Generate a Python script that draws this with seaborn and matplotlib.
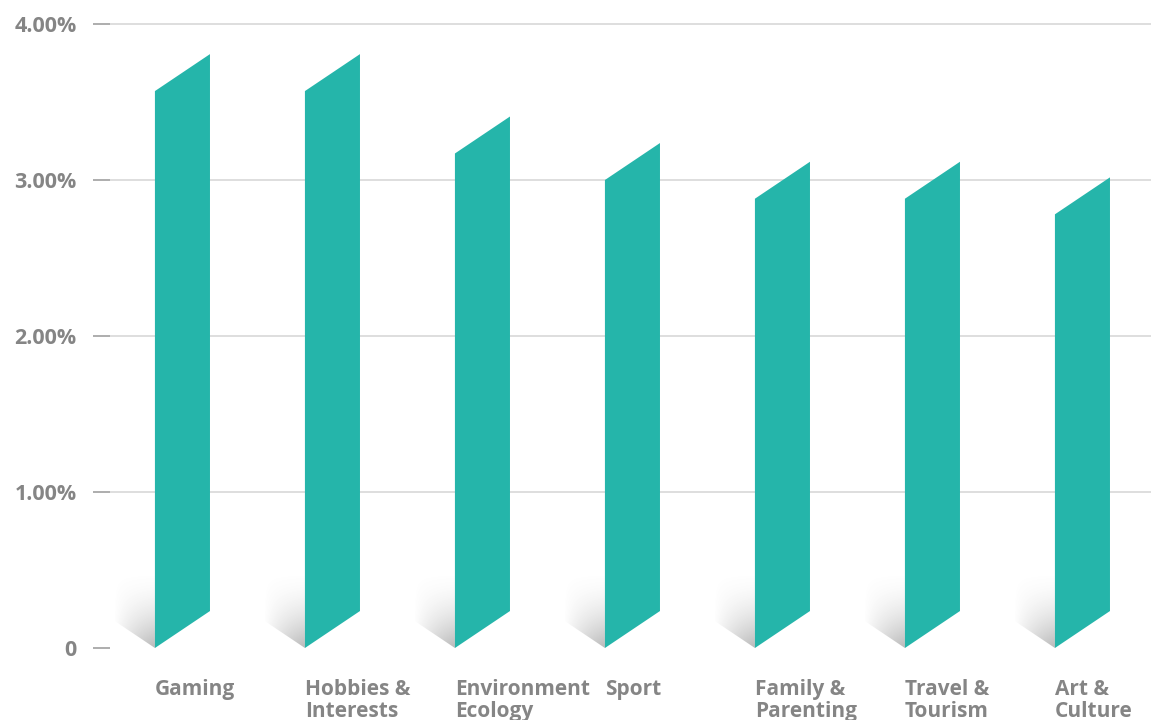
import numpy as np
import matplotlib
matplotlib.use("Agg")
import matplotlib.pyplot as plt
from matplotlib.patches import Polygon
import seaborn as sns

# Engagement rate by topic
categories = ["Gaming", "Hobbies &\nInterests", "Environment\nEcology", "Sport",
              "Family &\nParenting", "Travel &\nTourism", "Art &\nCulture"]
values = [3.57, 3.57, 3.17, 3.00, 2.88, 2.88, 2.78]
ytick_values = [0, 1, 2, 3, 4]
ytick_labels = ["0", "1.00%", "2.00%", "3.00%", "4.00%"]

TEAL = "#25B5AA"
TEXT = "#858585"
BAR_W = 0.367      # bar width in category units
SKEW = 0.237       # rise of the bar's right edge, in y units
SHADOW_W = 0.27    # shadow reach to the left of each bar
SHADOW_H = 0.50    # shadow height in y units

sns.set_theme(style="white")
plt.rcParams["font.family"] = ["Open Sans", "DejaVu Sans"]

fig = plt.figure(figsize=(11.51, 7.2), dpi=100)
ax = fig.add_axes([110 / 1151, 72 / 720, 1 - 110 / 1151, 4.05 * 156 / 720])

sns.barplot(x=categories, y=values, color=TEAL, width=BAR_W, saturation=1,
            ax=ax, zorder=3)

ax.set_xlim(-0.483, 6.457)
ax.set_ylim(0, 4.05)

# px -> data scale factors used for the shadow's slanted lower edge
px_per_x = 150.0
px_per_y = 156.0
slope = (SKEW * px_per_y) / (BAR_W * px_per_x)  # pixel slope of bar edges

bar_lefts = []
for p in list(ax.patches):
    x0, w, h = p.get_x(), p.get_width(), p.get_height()
    p.remove()
    bar_lefts.append(x0)

    # slanted bar: bottom and top edges rise to the right
    poly = Polygon([(x0, 0), (x0 + w, SKEW), (x0 + w, h + SKEW), (x0, h)],
                   closed=True, facecolor=TEAL, edgecolor="none", zorder=3)
    ax.add_patch(poly)

    # soft shadow falling to the left of the bar's foot
    drop = SHADOW_W * px_per_x * slope / px_per_y
    sh_poly = Polygon([(x0, 0), (x0 - SHADOW_W, drop),
                       (x0 - SHADOW_W, SHADOW_H), (x0, SHADOW_H)],
                      closed=True, facecolor="none", edgecolor="none")
    ax.add_patch(sh_poly)
    nx, ny = 140, 140
    xs = np.linspace(x0 - SHADOW_W, x0, nx)
    ys = np.linspace(0, SHADOW_H, ny)
    X, Y = np.meshgrid(xs, ys)
    u = (x0 - X) / SHADOW_W                      # 0 at bar edge, 1 at far left
    lower = u * drop
    v = np.clip((Y - lower) / (SHADOW_H - lower + 1e-9), 0, 1)
    alpha = 0.50 * (1 - v) ** 1.8 * (1 - u) ** 1.1
    rgba = np.zeros((ny, nx, 4))
    rgba[..., :3] = 0.45
    rgba[..., 3] = np.clip(alpha, 0, 1)
    im = ax.imshow(rgba, extent=(x0 - SHADOW_W, x0, 0, SHADOW_H),
                   origin="lower", aspect="auto", interpolation="bilinear",
                   zorder=2)
    im.set_clip_path(sh_poly)

ax.set_xlim(-0.483, 6.457)
ax.set_ylim(0, 4.05)

# category labels sit left-aligned under each bar
ax.set_xticks(bar_lefts)
ax.set_xticklabels(categories, ha="left", va="top", fontsize=15,
                   fontweight="bold", color=TEXT, linespacing=1.12)
ax.tick_params(axis="x", length=0, pad=22)

ax.set_yticks(ytick_values)
ax.set_yticklabels(ytick_labels, fontsize=15.5, fontweight="bold", color=TEXT)
ax.tick_params(axis="y", length=12, width=1.2, color="#a0a0a0", pad=12,
               direction="out", left=True)

ax.yaxis.grid(True, color="#d5d5d5", linewidth=1.1, zorder=0)
ax.xaxis.grid(False)
ax.set_axisbelow(True)
ax.get_ygridlines()[0].set_visible(False)
for s in ax.spines.values():
    s.set_visible(False)
ax.set_xlabel("")
ax.set_ylabel("")

fig.savefig("out.png", dpi=100, facecolor="white")
